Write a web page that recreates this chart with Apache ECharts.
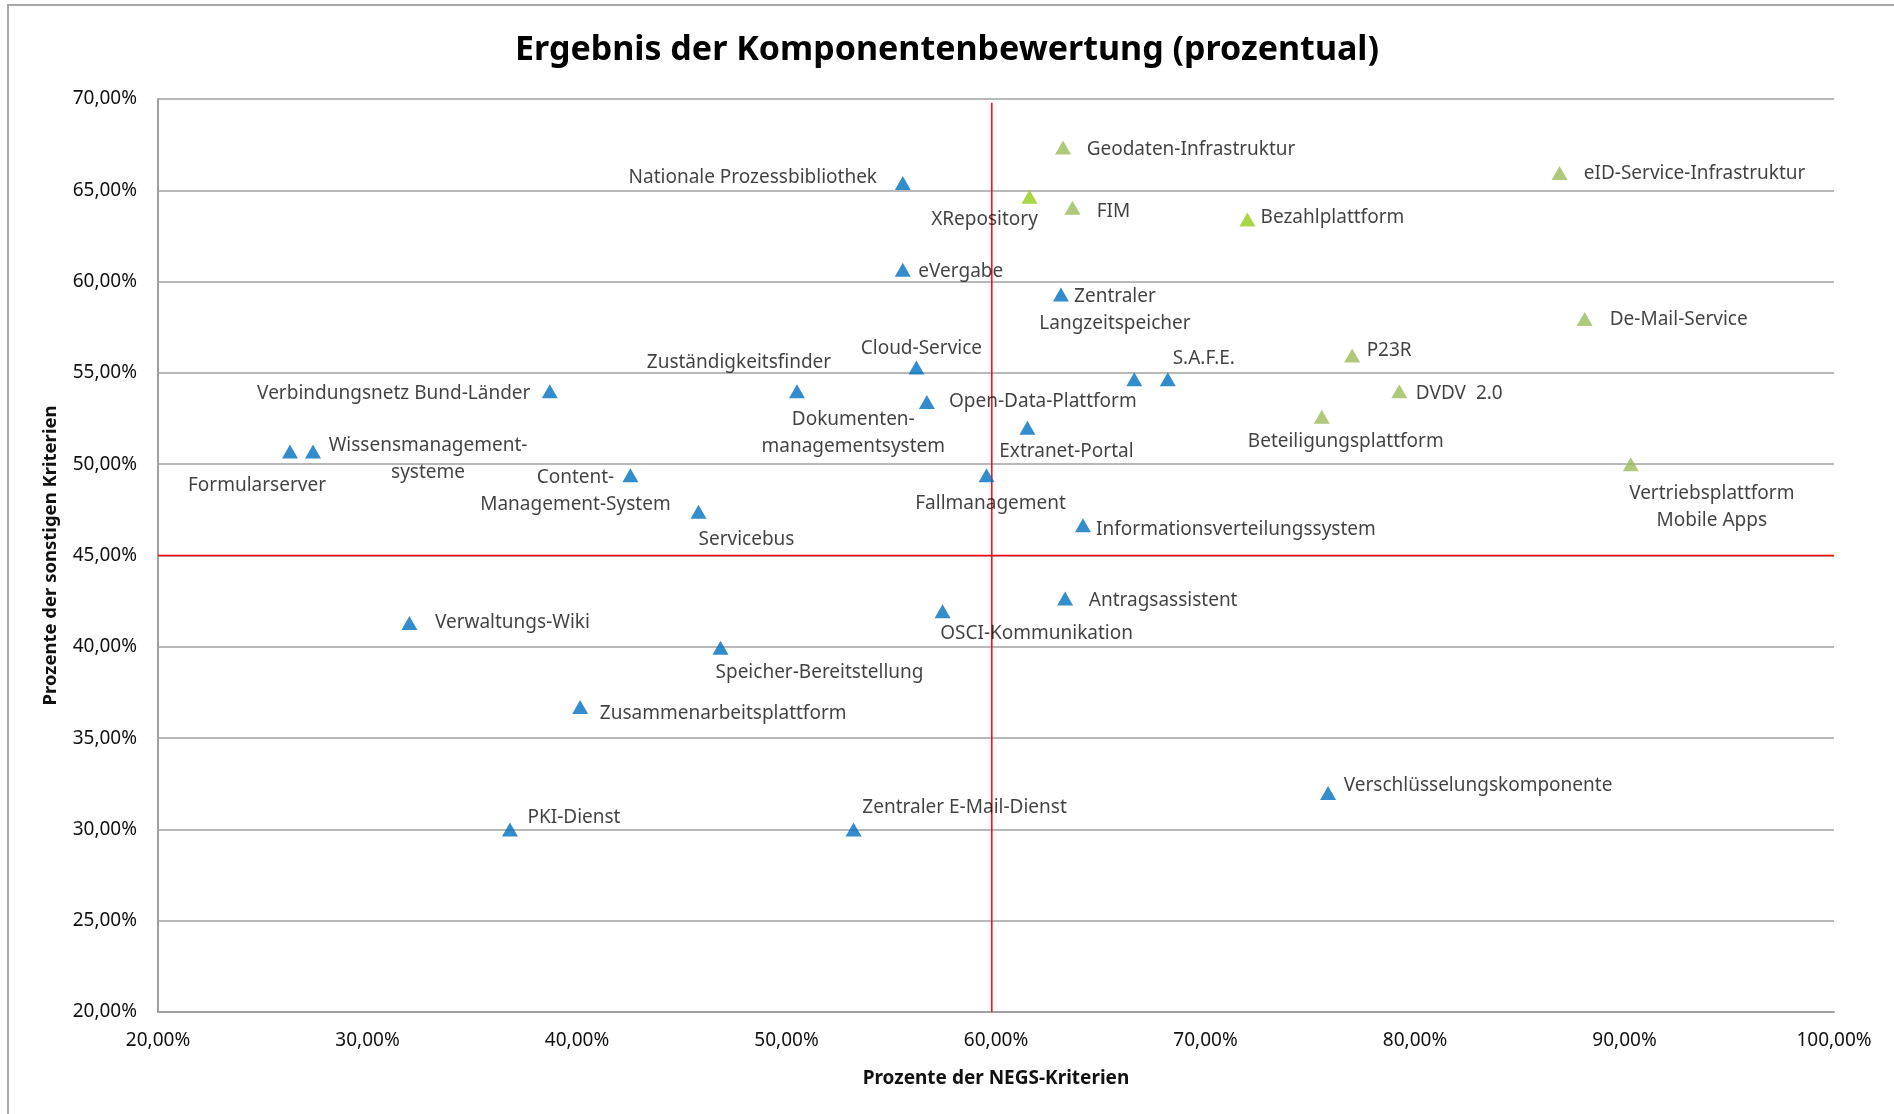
<!DOCTYPE html>
<html>
<head>
<meta charset="utf-8">
<script src="https://cdn.jsdelivr.net/npm/echarts@6/dist/echarts.min.js"></script>
<style>
html,body{margin:0;padding:0;background:#fff;}
#chart{width:1894px;height:1114px;}
</style>
</head>
<body>
<div id="chart"></div>
<script>
// ---- Data (percent values) ----
const blueNames = [
  "Nationale Prozessbibliothek", "eVergabe", "Zentraler\nLangzeitspeicher", "Cloud-Service",
  "Zuständigkeitsfinder", "Open-Data-Plattform", "Extranet-Portal", "Dokumenten-\nmanagementsystem",
  "S.A.F.E.", "Fallmanagement", "Informationsverteilungssystem", "Servicebus",
  "Content-\nManagement-System", "Verbindungsnetz Bund-Länder", "Formularserver",
  "Wissensmanagement-\nsysteme", "Verwaltungs-Wiki", "Speicher-Bereitstellung",
  "Zusammenarbeitsplattform", "PKI-Dienst", "Zentraler E-Mail-Dienst", "OSCI-Kommunikation",
  "Antragsassistent", "Verschlüsselungskomponente"
];
const blueX = [55.55, 55.55, 63.1, 56.2, 50.5, 56.7, 61.5, 66.6, 68.2, 59.55, 64.15, 45.8,
  42.55, 38.7, 26.3, 27.4, 32.0, 46.85, 40.15, 36.8, 53.2, 57.45, 63.3, 75.85];
const blueY = [65.4, 60.65, 59.3, 55.3, 54.0, 53.4, 52.0, 54.65, 54.65, 49.4, 46.65, 47.4,
  49.4, 54.0, 50.7, 50.7, 41.3, 39.95, 36.7, 30.0, 30.0, 41.95, 42.65, 32.0];

const greenNames = ["Geodaten-Infrastruktur", "FIM", "eID-Service-Infrastruktur", "De-Mail-Service",
  "P23R", "DVDV  2.0", "Beteiligungsplattform", "Vertriebsplattform\nMobile Apps"];
const greenX = [63.2, 63.65, 86.9, 88.1, 77.0, 79.25, 75.55, 90.3];
const greenY = [67.35, 64.05, 65.95, 57.95, 55.95, 54.0, 52.6, 50.0];

const limeNames = ["XRepository", "Bezahlplattform"];
const limeX = [61.6, 72.0];
const limeY = [64.65, 63.4];

const thresholdX = 59.8;   // vertical red reference line (NEGS)
const thresholdY = 45;     // horizontal red reference line
const xTicks = [20, 30, 40, 50, 60, 70, 80, 90, 100];
const yTicks = [20, 25, 30, 35, 40, 45, 50, 55, 60, 65, 70];

// ---- Label placement (pixel offsets from marker centre) ----
const blueLabelOffsets = [
  [-150, -5], [58, 2], [54, 16], [5, -19], [-58, -29], [116, -1], [39, 24], [-281, 54],
  [36, -21], [4, 28], [153, 4], [48, 28], [-55, 16], [-156, 2], [-33, 34], [115, 8],
  [103, 0], [99, 25], [143, 7], [64, -12], [111, -22], [94, 22], [98, 2], [150, -7]
];
const greenLabelOffsets = [[128, 2], [41, 4], [135, 1], [94, 1], [37, -5], [60, 2], [24, 25], [81, 43]];
const limeLabelOffsets = [[-45, 23], [85, -2]];

const FONT = "Noto Sans";
const TXT = '#111111';
const fmtPct = v => v.toFixed(2).replace('.', ',') + '%';

function buildData(names, xs, ys, offsets) {
  return names.map((n, i) => ({
    name: n,
    value: [xs[i], ys[i]],
    label: { offset: offsets[i] }
  }));
}

const labelBase = {
  show: true,
  position: 'inside',
  formatter: p => p.name,
  fontFamily: FONT,
  fontSize: 19,
  color: TXT,
  align: 'center',
  verticalAlign: 'middle',
  lineHeight: 27
};

const chart = echarts.init(document.getElementById('chart'), null, { renderer: 'canvas' });
chart.setOption({
  backgroundColor: '#ffffff',
  animation: false,
  title: {
    text: 'Ergebnis der Komponentenbewertung (prozentual)',
    left: 'center',
    top: 28,
    textStyle: { fontFamily: FONT, fontWeight: 'bold', fontSize: 34, color: '#000' }
  },
  graphic: [{
    type: 'rect',
    shape: { x: 8, y: 5, width: 2400, height: 2400 },
    style: { fill: 'none', stroke: '#a8a8a8', lineWidth: 2 },
    silent: true, z: -10
  }],
  grid: { left: 158, right: 60, top: 99, bottom: 102, containLabel: false },
  xAxis: {
    type: 'value', min: xTicks[0], max: xTicks[xTicks.length - 1], interval: 10,
    name: 'Prozente der NEGS-Kriterien', nameLocation: 'middle', nameGap: 57,
    nameTextStyle: { fontFamily: FONT, fontWeight: 'bold', fontSize: 19, color: TXT },
    axisLine: { show: true, lineStyle: { color: '#a0a0a0', width: 2 } },
    axisTick: { show: false },
    splitLine: { show: false },
    axisLabel: { formatter: fmtPct, fontFamily: FONT, fontSize: 19, color: TXT, margin: 19 }
  },
  yAxis: {
    type: 'value', min: yTicks[0], max: yTicks[yTicks.length - 1], interval: 5,
    name: 'Prozente der sonstigen Kriterien', nameLocation: 'middle', nameGap: 98,
    nameTextStyle: { fontFamily: FONT, fontWeight: 'bold', fontSize: 18.5, color: TXT },
    axisLine: { show: true, lineStyle: { color: '#a0a0a0', width: 2 } },
    axisTick: { show: false },
    splitLine: { show: true, lineStyle: { color: '#a0a0a0', width: 1.5 } },
    axisLabel: { formatter: fmtPct, fontFamily: FONT, fontSize: 19, color: TXT, margin: 21 }
  },
  series: [
    {
      type: 'line', silent: true, symbol: 'none', z: 1,
      data: [[thresholdX, yTicks[0]], [thresholdX, 69.8]],
      lineStyle: { color: '#ff0000', width: 1.5 }
    },
    {
      type: 'line', silent: true, symbol: 'none', z: 1,
      data: [[xTicks[0], thresholdY], [xTicks[xTicks.length - 1], thresholdY]],
      lineStyle: { color: '#ff0000', width: 1.5 }
    },
    {
      type: 'scatter', symbol: 'triangle', symbolSize: [16, 14], z: 3,
      itemStyle: { color: '#0070c0' },
      label: labelBase,
      data: buildData(blueNames, blueX, blueY, blueLabelOffsets)
    },
    {
      type: 'scatter', symbol: 'triangle', symbolSize: [16, 14], z: 3,
      itemStyle: { color: '#9bbb59' },
      label: labelBase,
      data: buildData(greenNames, greenX, greenY, greenLabelOffsets)
    },
    {
      type: 'scatter', symbol: 'triangle', symbolSize: [16, 14], z: 3,
      itemStyle: { color: '#92cc16' },
      label: labelBase,
      data: buildData(limeNames, limeX, limeY, limeLabelOffsets)
    }
  ]
});
</script>
</body>
</html>
